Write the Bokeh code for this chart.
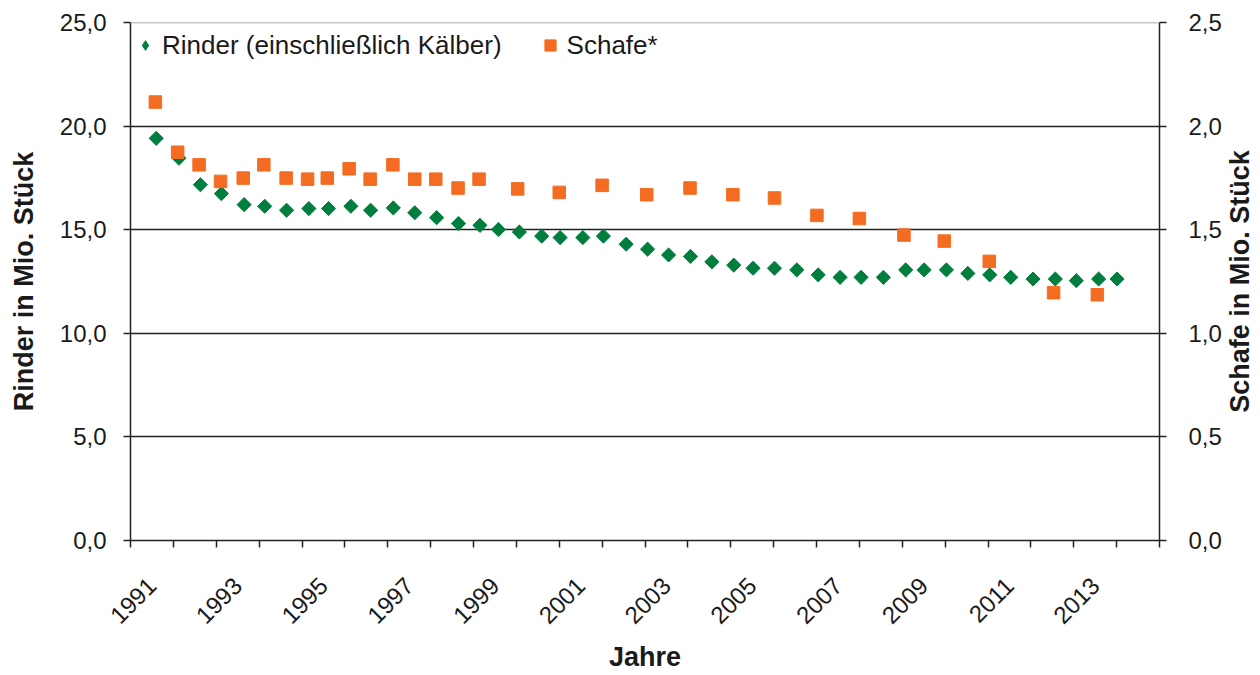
import math
from bokeh.plotting import figure
from bokeh.layouts import row
from bokeh.core.properties import value
from bokeh.models import (Range1d, LinearAxis, FixedTicker, CustomJSTickFormatter,
                          Legend, LegendItem, Span)
from bokeh.embed import file_html
from bokeh.resources import INLINE

# ---- data ----
label_years = list(range(1991, 2014, 2))

rinder_x = [1991.60, 1992.13, 1992.63, 1993.12, 1993.65, 1994.13, 1994.64, 1995.16, 1995.62, 1996.14,
            1996.60, 1997.13, 1997.63, 1998.14, 1998.65, 1999.15, 1999.58, 2000.07, 2000.59, 2001.02,
            2001.55, 2002.03, 2002.56, 2003.06, 2003.55, 2004.06, 2004.56, 2005.07, 2005.52, 2006.02,
            2006.54, 2007.04, 2007.55, 2008.04, 2008.56, 2009.08, 2009.51, 2010.03, 2010.53, 2011.04,
            2011.53, 2012.05, 2012.57, 2013.06, 2013.58, 2014.01]
rinder_y = [19.41, 18.45, 17.17, 16.74, 16.21, 16.13, 15.94, 16.02, 16.02, 16.13,
            15.94, 16.05, 15.82, 15.58, 15.30, 15.21, 15.01, 14.89, 14.69, 14.62,
            14.62, 14.69, 14.30, 14.06, 13.78, 13.71, 13.45, 13.29, 13.14, 13.14,
            13.06, 12.82, 12.70, 12.70, 12.70, 13.06, 13.06, 13.06, 12.89, 12.82,
            12.70, 12.62, 12.62, 12.54, 12.62, 12.62]

schafe_x = [1991.58, 1992.10, 1992.60, 1993.10, 1993.63, 1994.11, 1994.63, 1995.13, 1995.59, 1996.10,
            1996.59, 1997.12, 1997.63, 1998.12, 1998.64, 1999.13, 2000.03, 2001.00, 2002.00, 2003.04,
            2004.05, 2005.05, 2006.02, 2007.01, 2008.00, 2009.04, 2009.98, 2011.03, 2012.53, 2013.55]
schafe_y = [2.116, 1.874, 1.813, 1.733, 1.749, 1.813, 1.749, 1.744, 1.749, 1.794,
            1.744, 1.813, 1.744, 1.744, 1.701, 1.744, 1.697, 1.680, 1.714, 1.669,
            1.701, 1.669, 1.653, 1.569, 1.554, 1.474, 1.445, 1.347, 1.196, 1.186]

GREEN = "#007E3E"
ORANGE = "#F36C21"
FONT = "Liberation Sans"
TXT = "#1a1a1a"

p = figure(width=1224, height=675, output_backend="svg", toolbar_location=None,
           x_range=Range1d(1991, 2015), y_range=Range1d(0, 25),
           min_border_left=130, min_border_right=64, min_border_top=22, min_border_bottom=135)
p.extra_y_ranges = {"schafe": Range1d(0, 2.5)}
p.outline_line_color = None
p.background_fill_color = "white"

fmt = CustomJSTickFormatter(code="return tick.toFixed(1).replace('.', ',')")

# left axis
yax = p.yaxis[0]
yax.ticker = FixedTicker(ticks=[0, 5, 10, 15, 20, 25])
yax.formatter = fmt
yax.axis_label = "Rinder in Mio. Stück"

# right axis
rax = LinearAxis(y_range_name="schafe", ticker=FixedTicker(ticks=[0, 0.5, 1.0, 1.5, 2.0, 2.5]),
                 formatter=fmt)
p.add_layout(rax, "right")

for ax in [yax, rax]:
    ax.major_tick_out = 7
    ax.major_tick_in = 0
    ax.minor_tick_out = 0
    ax.minor_tick_in = 0
    ax.axis_line_color = "#222222"
    ax.axis_line_width = 1.5
    ax.major_tick_line_color = "#222222"
    ax.major_tick_line_width = 1.5
    ax.major_label_text_font = FONT
    ax.major_label_text_font_size = "24px"
    ax.major_label_text_color = TXT
yax.major_label_standoff = 17
rax.major_label_standoff = 22

yax.axis_label_text_font = FONT
yax.axis_label_text_font_size = "27px"
yax.axis_label_text_font_style = "bold"
yax.axis_label_text_color = TXT
yax.axis_label_standoff = 18

# x axis
xax = p.xaxis[0]
xax.ticker = FixedTicker(ticks=[y + 0.5 for y in label_years],
                         minor_ticks=list(range(1991, 2016)))
xax.major_label_overrides = {y + 0.5: str(y) for y in label_years}
xax.major_tick_out = 0
xax.major_tick_in = 0
xax.minor_tick_out = 7
xax.minor_tick_in = 0
xax.minor_tick_line_color = "#222222"
xax.minor_tick_line_width = 1.5
xax.axis_line_color = "#222222"
xax.axis_line_width = 1.5
xax.major_label_orientation = math.pi / 4
xax.major_label_text_font = FONT
xax.major_label_text_font_size = "24px"
xax.major_label_text_color = TXT
xax.major_label_standoff = 34
xax.axis_label = "Jahre"
xax.axis_label_text_font = FONT
xax.axis_label_text_font_size = "27px"
xax.axis_label_text_font_style = "bold"
xax.axis_label_text_color = TXT
xax.axis_label_standoff = 8

# grid
p.xgrid.visible = False
p.ygrid.ticker = FixedTicker(ticks=[5, 10, 15, 20])
p.ygrid.grid_line_color = "#222222"
p.ygrid.grid_line_width = 1.5
p.add_layout(Span(location=25, dimension="width", line_color="#8c8c8c", line_width=1.5))

# data
r1 = p.scatter(rinder_x, rinder_y, marker="square", angle=math.pi / 4, size=10,
               fill_color=GREEN, line_color=GREEN)
r2 = p.scatter(schafe_x, schafe_y, y_range_name="schafe", marker="square", size=12.5,
               fill_color=ORANGE, line_color=ORANGE)
# legend-only glyph for the diamond symbol (zero size on the plot itself)
r1_leg = p.scatter(rinder_x, rinder_y, marker="diamond", size=0,
                   fill_color=GREEN, line_color=GREEN, line_width=0)

legend = Legend(items=[LegendItem(label="Rinder (einschließlich Kälber)", renderers=[r1_leg]),
                       LegendItem(label="Schafe*", renderers=[r2])],
                orientation="horizontal", location="top_left")
legend.background_fill_alpha = 0
legend.border_line_alpha = 0
legend.label_text_font = FONT
legend.label_text_font_size = "26px"
legend.label_text_color = TXT
legend.glyph_width = 28
legend.glyph_height = 44
legend.spacing = 34
legend.padding = 1
legend.margin = 0
legend.label_standoff = 3
p.add_layout(legend)

# narrow strip on the right carrying the right-axis title (reads bottom-to-top)
p2 = figure(width=36, height=675, output_backend="svg", toolbar_location=None,
            x_range=Range1d(0, 1), y_range=Range1d(0, 25),
            x_axis_location=None, y_axis_location=None,
            min_border_left=0, min_border_right=0, min_border_top=22, min_border_bottom=135)
p2.outline_line_color = None
p2.xgrid.visible = False
p2.ygrid.visible = False
p2.text(x=[0.42], y=[12.5], text=["Schafe in Mio. Stück"], angle=math.pi / 2,
        text_align="center", text_baseline="middle", text_font=value(FONT),
        text_font_size=value("27px"), text_font_style="bold", text_color=TXT)

layout = row(p, p2, spacing=0)

open("out.html", "w").write(file_html(layout, INLINE))
